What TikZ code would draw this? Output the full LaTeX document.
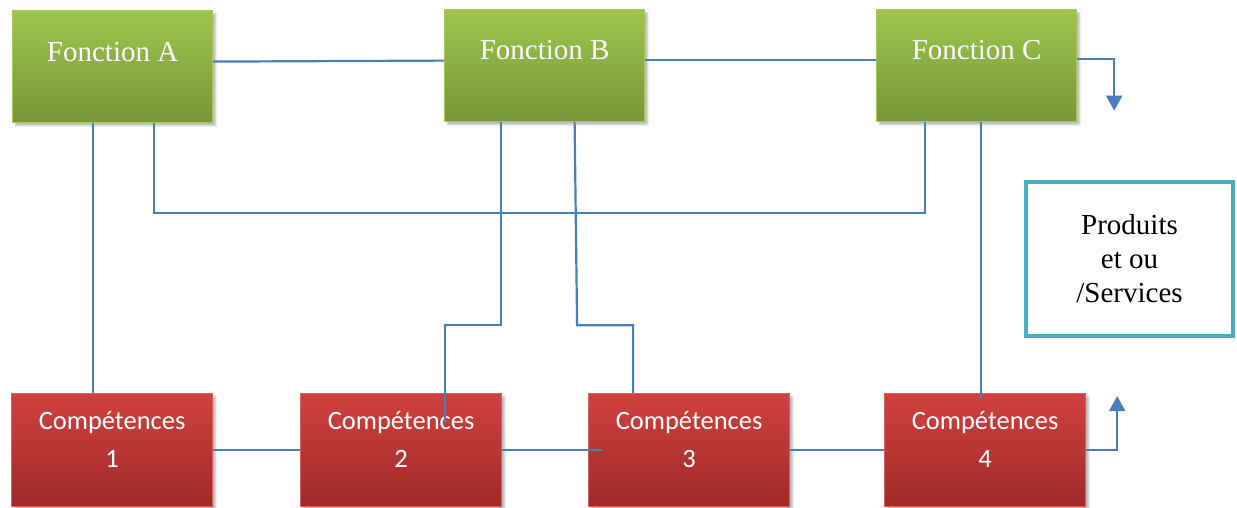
\documentclass[tikz,border=0pt]{standalone}
\usepackage{fontspec}
\setmainfont{Liberation Serif}
\newfontfamily\calibfont{Carlito}
\usetikzlibrary{calc,arrows.meta,shadows.blur}

\definecolor{fnTop}{RGB}{157,198,76}
\definecolor{fnBot}{RGB}{119,150,57}
\definecolor{fnEdge}{RGB}{166,200,98}
\definecolor{cpTop}{RGB}{208,65,63}
\definecolor{cpBot}{RGB}{160,42,40}
\definecolor{cpEdge}{RGB}{214,96,94}
\definecolor{wire}{RGB}{74,126,187}
\definecolor{outEdge}{RGB}{75,172,198}

\tikzset{
  boxshadow/.style={blur shadow={shadow xshift=3pt, shadow yshift=-3pt,
      shadow blur steps=6, shadow opacity=28}},
  fnbox/.style={anchor=north west, minimum width=200pt, minimum height=112pt,
      inner sep=0pt, top color=fnTop, bottom color=fnBot, draw=fnEdge,
      line width=1.2pt, boxshadow},
  cpbox/.style={anchor=north west, minimum width=201pt, minimum height=113pt,
      inner sep=0pt, top color=cpTop, bottom color=cpBot, draw=cpEdge,
      line width=1.2pt, boxshadow},
  fntext/.style={anchor=base, text=white, inner sep=0pt,
      font=\fontsize{29}{34}\selectfont},
  cptext/.style={anchor=base, text=white, inner sep=0pt, align=center,
      font=\calibfont\fontsize{26.5}{38}\selectfont},
  outbox/.style={anchor=north west, minimum width=207pt, minimum height=154pt,
      draw=outEdge, line width=4pt, fill=white, inner sep=0pt},
  outtext/.style={align=center, inner sep=0pt,
      font=\fontsize{29}{34}\selectfont},
  wirestyle/.style={draw=wire, line width=2.2pt},
  arrowwire/.style={wirestyle, -{Triangle[width=16pt,length=15pt]}},
}

\begin{document}
\begin{tikzpicture}[x=1pt,y=-1pt]
  \useasboundingbox (0,0) rectangle (1237,507);

  % functions (top row)
  \node[fnbox] (fa) at (12,10) {};
  \node[fnbox] (fb) at (444,9) {};
  \node[fnbox] (fc) at (876,9) {};
  \node[fntext] (ta) at ($(fa.north)+(0,51)$) {Fonction A};
  \node[fntext] (tb) at ($(fb.north)+(0,50)$) {Fonction B};
  \node[fntext] (tc) at ($(fc.north)+(0,50)$) {Fonction C};

  % competences (bottom row)
  \node[cpbox] (c1) at (11,393) {};
  \node[cpbox] (c2) at (300,393) {};
  \node[cpbox] (c3) at (588,393) {};
  \node[cpbox] (c4) at (884,393) {};
  \foreach \k in {1,2,3,4}{
    \node[cptext] (tc\k a) at ($(c\k.north)+(0,36)$) {Compétences};
    \node[cptext] (tc\k b) at ($(c\k.north)+(0,74)$) {\k};
  }

  % output box
  \node[outbox] (out) at (1024,180) {};
  \node[outtext] (outt) at ($(out.center)+(0,0)$) {Produits\\et ou\\/Services};

  % links between functions
  \draw[wirestyle] ($(fa.east)+(0,-5)$) -- ($(fb.west)+(0,-5)$);
  \draw[wirestyle] ($(fb.east)+(0,-6)$) -- ($(fc.west)+(0,-6)$);
  \coordinate (ctip) at ($(fc.east)+(37,45)$);
  \draw[arrowwire] ($(fc.east)+(0,-7)$) -| (ctip);

  % links between competences
  \draw[wirestyle] (c1.east) -- (c2.west);
  \draw[wirestyle] (c2.east) -- ($(c3.west)+(14,0)$);
  \draw[wirestyle] (c3.east) -- (c4.west);
  \coordinate (ktip) at ($(c4.east)+(31,-54)$);
  \draw[arrowwire] (c4.east) -| (ktip);

  % function A
  \coordinate (a1) at ($(fa.south)+(-20,0)$);
  \draw[wirestyle] (a1) -- (a1 |- c1.north);
  \coordinate (a2) at ($(fa.south)+(41,0)$);
  \coordinate (cj) at ($(fc.south)+(-52,0)$);
  \draw[wirestyle] (a2) -- ++(0,90) -| (cj);

  % function B
  \coordinate (b1) at ($(fb.south)+(-43.5,0)$);
  \coordinate (b1e) at ($(c2.north)+(44,29)$);
  \draw[wirestyle] (b1) -- ++(0,203) -| (b1e);
  \coordinate (b2) at ($(fb.south)+(30,0)$);
  \coordinate (b2k) at ($(fb.south)+(32.5,203)$);
  \coordinate (b2e) at ($(c3.north)+(-56,0)$);
  \draw[wirestyle] (b2) -- (b2k) -| (b2e);

  % function C
  \coordinate (c0) at ($(fc.south)+(4,0)$);
  \draw[wirestyle] (c0) -- ($(c0 |- c4.north)+(0,6)$);
\end{tikzpicture}
\end{document}
